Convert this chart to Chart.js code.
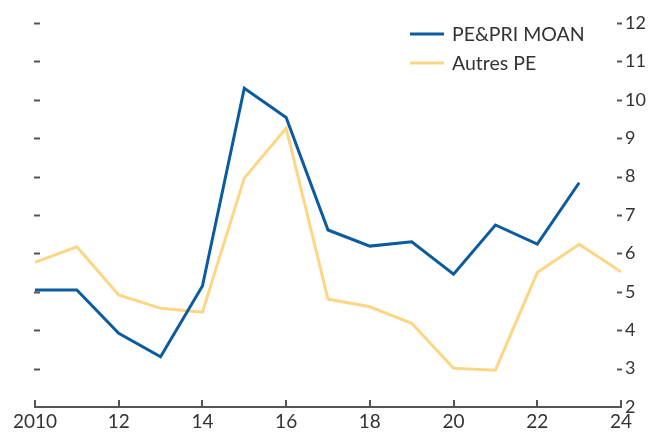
<!DOCTYPE html>
<html>
<head>
<meta charset="utf-8">
<script src="https://cdn.jsdelivr.net/npm/chart.js@4/dist/chart.umd.min.js"></script>
<style>
  html, body { margin: 0; padding: 0; background: #fff; }
  #wrap { width: 652px; height: 433px; position: relative; }
</style>
</head>
<body>
<div id="wrap"><canvas id="c" width="652" height="433"></canvas></div>
<script>
const years = [2010, 2011, 2012, 2013, 2014, 2015, 2016, 2017, 2018, 2019, 2020, 2021, 2022, 2023, 2024];
const peMoan = [5.05, 5.05, 3.92, 3.31, 5.15, 10.30, 9.54, 6.61, 6.19, 6.30, 5.46, 6.74, 6.24, 7.84, null];
const autresPe = [5.77, 6.17, 4.92, 4.57, 4.47, 7.96, 9.26, 4.81, 4.61, 4.18, 3.01, 2.96, 5.50, 6.24, 5.52];
const seriesNames = ['PE&PRI MOAN', 'Autres PE'];
const xTicks = [2010, 2012, 2014, 2016, 2018, 2020, 2022, 2024];
const yTicks = [2, 3, 4, 5, 6, 7, 8, 9, 10, 11, 12];

const BLUE = '#0a5c9e';
const YELLOW = '#fdd685';
const AXIS = '#555555';
const TEXT = '#333333';
const FONT = 'Lato, "Noto Sans", sans-serif';

function toPoints(vals) {
  const out = [];
  years.forEach((y, i) => { if (vals[i] !== null) out.push({ x: y, y: vals[i] }); });
  return out;
}

const tickPlugin = {
  id: 'innerTicks',
  afterDraw(chart) {
    const ctx = chart.ctx;
    const xs = chart.scales.x, ys = chart.scales.y;
    const ca = chart.chartArea;
    ctx.save();
    ctx.strokeStyle = AXIS;
    ctx.lineWidth = 2;
    ctx.lineCap = 'butt';
    // x ticks pointing up
    xTicks.forEach(v => {
      const px = Math.round(xs.getPixelForValue(v));
      ctx.beginPath();
      ctx.moveTo(px, ca.bottom + 1);
      ctx.lineTo(px, ca.bottom - 7);
      ctx.stroke();
    });
    // y ticks on both sides, inward dashes
    yTicks.forEach(v => {
      if (v === ys.min) return;
      const py = Math.round(ys.getPixelForValue(v)) + 0.5;
      ctx.beginPath();
      ctx.moveTo(ca.left - 1, py);
      ctx.lineTo(ca.left + 5, py);
      ctx.stroke();
      ctx.beginPath();
      ctx.moveTo(ca.right - 4, py);
      ctx.lineTo(ca.right + 1, py);
      ctx.stroke();
    });
    // legend
    const items = chart.data.datasets;
    ctx.font = '19.5px ' + FONT;
    ctx.textBaseline = 'middle';
    ctx.textAlign = 'left';
    items.forEach((ds, i) => {
      const ly = 34 + i * 29;
      ctx.strokeStyle = ds.borderColor;
      ctx.lineWidth = 3;
      ctx.beginPath();
      ctx.moveTo(410, ly);
      ctx.lineTo(444, ly);
      ctx.stroke();
      ctx.fillStyle = TEXT;
      ctx.fillText(ds.label, 452, ly + 1);
    });
    ctx.restore();
  }
};

new Chart(document.getElementById('c'), {
  type: 'line',
  data: {
    datasets: [
      { label: seriesNames[0], data: toPoints(peMoan), borderColor: BLUE, backgroundColor: BLUE, borderWidth: 3, pointRadius: 0, tension: 0, yAxisID: 'y' },
      { label: seriesNames[1], data: toPoints(autresPe), borderColor: YELLOW, backgroundColor: YELLOW, borderWidth: 3, pointRadius: 0, tension: 0, yAxisID: 'y' }
    ]
  },
  options: {
    responsive: false,
    animation: false,
    devicePixelRatio: 1,
    layout: { padding: { left: 35, top: 23, right: 0, bottom: 0 } },
    plugins: { legend: { display: false }, tooltip: { enabled: false } },
    scales: {
      x: {
        type: 'linear',
        min: 2010, max: 2024,
        afterBuildTicks(scale) { scale.ticks = xTicks.map(v => ({ value: v })); },
        afterFit(scale) { scale.height = 26; },
        grid: { display: false, drawTicks: false },
        border: { display: true, color: AXIS, width: 2 },
        ticks: {
          color: TEXT,
          font: { family: FONT, size: 19 },
          padding: 3,
          maxRotation: 0,
          autoSkip: false,
          callback: (v) => v === 2010 ? '2010' : String(v).slice(2)
        }
      },
      y: {
        position: 'right',
        min: 2, max: 12,
        afterBuildTicks(scale) { scale.ticks = yTicks.map(v => ({ value: v })); },
        afterFit(scale) { scale.width = 31; },
        grid: { display: false, drawTicks: false },
        border: { display: false },
        ticks: {
          color: TEXT,
          font: { family: FONT, size: 18 },
          padding: 4,
          autoSkip: false
        }
      }
    }
  },
  plugins: [tickPlugin]
});
</script>
</body>
</html>
